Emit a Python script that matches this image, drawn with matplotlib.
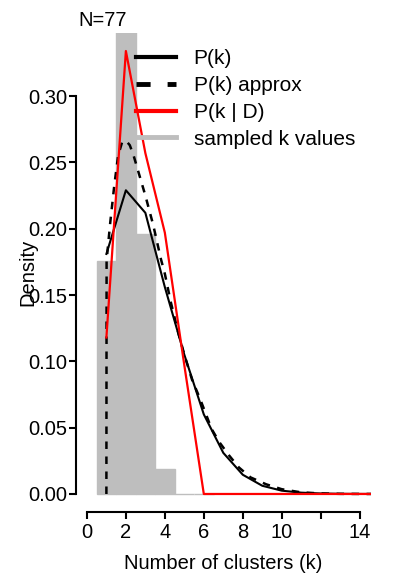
import matplotlib
matplotlib.use('Agg')
import matplotlib.pyplot as plt
from matplotlib.lines import Line2D

plt.rcParams['font.family'] = ['Liberation Sans', 'DejaVu Sans']

# histogram of sampled k (density per unit-width bin, centred on integers)
hist_k = [1, 2, 3, 4, 5, 6]
hist_density = [0.176, 0.60, 0.196, 0.019, 0.0, 0.0]

# P(k) at integer k
k = [1, 2, 3, 4, 5, 6, 7, 8, 9, 10, 11, 12, 13, 14, 15]
p_k = [0.181, 0.229, 0.212, 0.156, 0.105, 0.060, 0.031, 0.0145, 0.0062,
       0.0025, 0.001, 0.0004, 0.00015, 0.00005, 0.00002]
# P(k | D) at integer k
p_k_post = [0.118, 0.334, 0.257, 0.197, 0.097, 0.0, 0.0, 0.0, 0.0,
            0.0, 0.0, 0.0, 0.0, 0.0, 0.0]

# P(k) approx, continuous curve
k_approx = [1.0, 1.01, 1.2, 1.4, 1.6, 1.8, 2.0, 2.2, 2.4, 2.6, 2.8, 3.0,
            3.4, 3.8, 4.0, 4.3, 4.7, 5.0, 5.4, 5.8, 6.4, 6.8, 7.3, 7.8,
            8.4, 9.2, 10.0, 11.0, 12.0, 13.0, 14.0, 15.0]
p_approx = [0.0, 0.176, 0.205, 0.232, 0.255, 0.265, 0.2665, 0.263, 0.255,
            0.245, 0.235, 0.225, 0.203, 0.177, 0.166, 0.145, 0.121, 0.105,
            0.086, 0.072, 0.049, 0.039, 0.029, 0.020, 0.0125, 0.0073,
            0.0036, 0.0012, 0.0004, 0.0001, 0.00003, 0.0]

n_obs = 77
grey = '#bebebe'
fs = 14.5

fig = plt.figure(figsize=(4.04, 5.87), dpi=100)
ax = fig.add_axes([76 / 404, 75.3 / 587, 294.6 / 404, 478.4 / 587])

ax.bar(hist_k, hist_density, width=1.0, color=grey, edgecolor=grey,
       linewidth=1, zorder=1)
ax.plot(k, p_k, color='black', lw=1.5, zorder=3)
ax.plot(k_approx, p_approx, color='black', lw=1.8, ls=(0, (3, 3)), zorder=3)
ax.plot(k, p_k_post, color='red', lw=1.6, zorder=4)

ymax = max(p_k_post)
ax.set_xlim(-0.56, 14.56)
ax.set_ylim(-0.04 * ymax, 1.04 * ymax)

for s in ['top', 'right']:
    ax.spines[s].set_visible(False)
ax.spines['left'].set_bounds(0, 0.30)
ax.spines['bottom'].set_bounds(0, 14)
for s in ['left', 'bottom']:
    ax.spines[s].set_linewidth(1.5)

ax.set_yticks([0, 0.05, 0.10, 0.15, 0.20, 0.25, 0.30])
ax.set_yticklabels(['0.00', '0.05', '0.10', '0.15', '0.20', '0.25', '0.30'])
ax.set_xticks([0, 2, 4, 6, 8, 10, 12, 14])
ax.set_xticklabels(['0', '2', '4', '6', '8', '10', '', '14'])
ax.tick_params(direction='out', length=5, width=1.5, labelsize=fs)
ax.tick_params(axis='y', pad=1.5)
ax.tick_params(axis='x', pad=3)

ax.set_xlabel('Number of clusters (k)', fontsize=fs, labelpad=9)
ax.set_ylabel('Density', fontsize=fs)
ax.yaxis.set_label_coords(-0.132, 0.5)

fig.text(78 / 404, 1 - 20 / 587, 'N=%d' % n_obs, fontsize=fs,
         ha='left', va='center')

handles = [
    Line2D([], [], color='black', lw=3),
    Line2D([], [], color='black', lw=3.5, ls=(0, (2.9, 3.5))),
    Line2D([], [], color='red', lw=3),
    Line2D([], [], color=grey, lw=3.5),
]
labels = ['P(k)', 'P(k) approx', 'P(k | D)', 'sampled k values']
ax.legend(handles, labels, loc='upper left', frameon=False,
          bbox_to_anchor=(136 / 404, 1 - 49 / 587),
          bbox_transform=fig.transFigure, borderaxespad=0, borderpad=0,
          handlelength=1.92, handletextpad=0.85, labelspacing=0.38,
          fontsize=15)

fig.savefig('out.png', dpi=100)
